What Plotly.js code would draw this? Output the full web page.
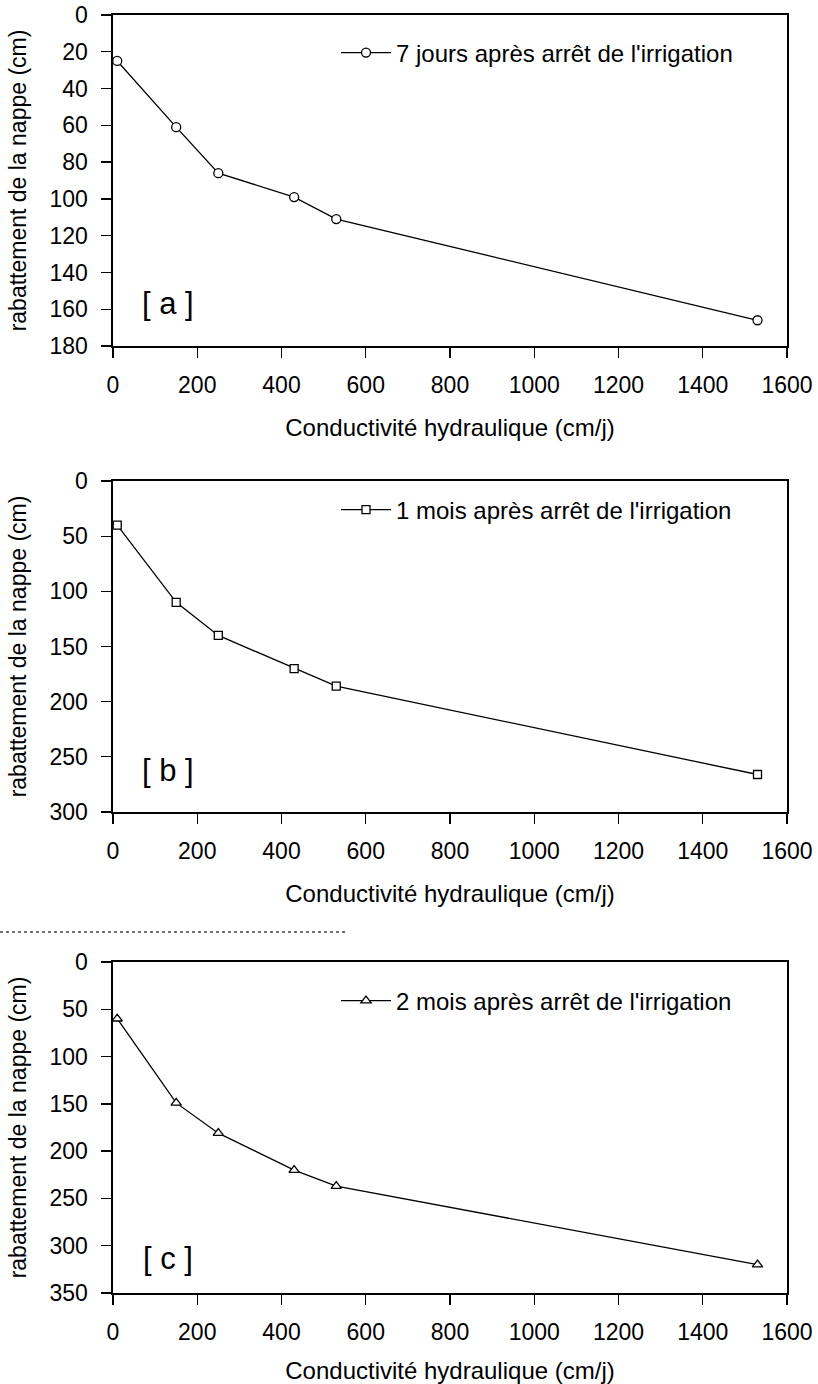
<!DOCTYPE html>
<html>
<head>
<meta charset="utf-8">
<script src="https://cdn.plot.ly/plotly-3.0.1.min.js"></script>
<style>html,body{margin:0;padding:0;background:#fff}#chart{width:818px;height:1384px}</style>
</head>
<body>
<div id="chart"></div>
<script>
// Data
const conductivite = [10, 150, 250, 430, 530, 1530];
const rabattement7jours = [25, 61, 86, 99, 111, 166];
const rabattement1mois = [40, 110, 140, 170, 186, 266];
const rabattement2mois = [60, 149, 181, 220, 237, 320];
const seriesNames = ["7 jours après arrêt de l'irrigation", "1 mois après arrêt de l'irrigation", "2 mois après arrêt de l'irrigation"];
const panelLabels = ["[ a ]", "[ b ]", "[ c ]"];
const xTitle = "Conductivité hydraulique (cm/j)";
const yTitle = "rabattement de la nappe (cm)";

const W = 818, H = 1384;
const FONT = "Liberation Sans, Arial, sans-serif";
const px = v => v / W;
const py = v => 1 - v / H;

const lineStyle = {color: '#000', width: 1.3};
const mk = (sym, size) => ({symbol: sym, size: size, color: '#fff', line: {color: '#000', width: 1.3}});

const traces = [
  {x: conductivite, y: rabattement7jours, name: seriesNames[0], mode: 'lines+markers', line: lineStyle, marker: mk('circle', 9), xaxis: 'x', yaxis: 'y', legend: 'legend'},
  {x: conductivite, y: rabattement1mois, name: seriesNames[1], mode: 'lines+markers', line: lineStyle, marker: mk('square', 8), xaxis: 'x2', yaxis: 'y2', legend: 'legend2'},
  {x: conductivite, y: rabattement2mois, name: seriesNames[2], mode: 'lines+markers', line: lineStyle, marker: mk('triangle-up', 9), xaxis: 'x3', yaxis: 'y3', legend: 'legend3'}
];

const panels = [
  {top: 15, bottom: 346, yr: [180, 0], dy: 20},
  {top: 481, bottom: 812, yr: [300, 0], dy: 50},
  {top: 962, bottom: 1293, yr: [350, 0], dy: 50}
];

const xdom = [px(113), px(787)];
const axBase = {
  showline: true, linecolor: '#000', linewidth: 1.6, mirror: true,
  ticks: 'outside', ticklen: 10, tickwidth: 1.3, tickcolor: '#000',
  showgrid: false, zeroline: false,
  tickfont: {family: FONT, size: 23, color: '#000'}
};

const layout = {
  width: W, height: H,
  margin: {l: 0, r: 0, t: 0, b: 0},
  paper_bgcolor: '#fff', plot_bgcolor: '#fff',
  font: {family: FONT, color: '#000'},
  showlegend: true,
  annotations: [],
  shapes: [
    {type: 'line', xref: 'paper', yref: 'paper', x0: 0, x1: px(345), y0: py(932), y1: py(932), line: {color: '#444', width: 1.5, dash: 'dot'}}
  ]
};

panels.forEach((p, i) => {
  const sx = i === 0 ? '' : String(i + 1);
  layout['xaxis' + sx] = Object.assign({}, axBase, {
    domain: xdom, range: [0, 1600], dtick: 200, tick0: 0,
    anchor: 'y' + sx,
    ticklabelstandoff: 8,
    title: {text: xTitle, font: {family: FONT, size: 24, color: '#000'}, standoff: 22}
  });
  layout['yaxis' + sx] = Object.assign({}, axBase, {
    domain: [py(p.bottom), py(p.top)], range: p.yr, dtick: p.dy, tick0: 0,
    anchor: 'x' + sx,
    ticklabelstandoff: 9,
    title: {text: yTitle, font: {family: FONT, size: 23, color: '#000'}, standoff: 16}
  });
  const lg = i === 0 ? 'legend' : 'legend' + (i + 1);
  layout[lg] = {
    x: px(336), xanchor: 'left',
    y: py([53, 510, 1001][i]), yanchor: 'middle',
    itemwidth: 50,
    bgcolor: 'rgba(0,0,0,0)', borderwidth: 0,
    font: {family: FONT, size: 24, color: '#000'}
  };
  layout.annotations.push({
    xref: 'x' + sx, yref: 'y' + sx, x: 130, y: [157, 262, 314][i],
    text: panelLabels[i], showarrow: false,
    font: {family: FONT, size: 31, color: '#000'}
  });
});

Plotly.newPlot('chart', traces, layout, {displayModeBar: false, staticPlot: true});
</script>
</body>
</html>
